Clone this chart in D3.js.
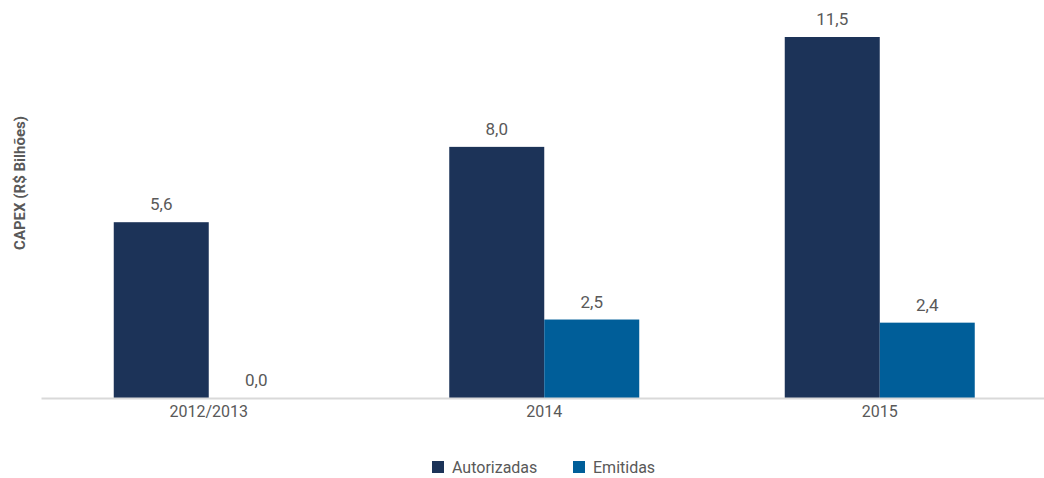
<!DOCTYPE html>
<html>
<head>
<meta charset="utf-8">
<script src="https://cdn.jsdelivr.net/npm/d3@7"></script>
<style>
  html, body { margin: 0; padding: 0; background: #fff; }
  svg text { font-family: "Liberation Sans Narrow", "Roboto", sans-serif; fill: #595959; }
</style>
</head>
<body>
<svg id="chart" width="1044" height="478"></svg>
<script>
// CAPEX data (R$ bilhões)
const categories = ["2012/2013", "2014", "2015"];
const seriesNames = ["Autorizadas", "Emitidas"];
const autorizadas = [5.6, 8.0, 11.5];
const emitidas = [0.0, 2.5, 2.4];
const colors = ["#1c3358", "#005e99"];

const svg = d3.select("#chart");
const margin = { left: 41, right: -3.5, top: 37, bottom: 80 };
const W = 1044, H = 478;
const baseY = 398;

const x0 = d3.scaleBand().domain(categories).range([margin.left, W - margin.right]).paddingInner(0).paddingOuter(0);
const barW = 95;
const x1 = d3.scaleBand().domain(seriesNames).range([0, barW * 2]);
const y = d3.scaleLinear().domain([0, 11.5]).range([baseY, margin.top]);

const rows = categories.map((c, i) => ({ cat: c, vals: [autorizadas[i], emitidas[i]] }));

const groups = svg.selectAll("g.grp").data(rows).join("g")
  .attr("class", "grp")
  .attr("transform", d => `translate(${x0(d.cat) + x0.bandwidth() / 2 - barW},0)`);

groups.selectAll("rect").data(d => d.vals.map((v, j) => ({ v, s: seriesNames[j], j })))
  .join("rect")
  .attr("x", d => x1(d.s))
  .attr("width", x1.bandwidth())
  .attr("y", d => y(d.v))
  .attr("height", d => y(0) - y(d.v))
  .attr("fill", d => colors[d.j]);

groups.selectAll("text.val").data(d => d.vals.map((v, j) => ({ v, s: seriesNames[j] })))
  .join("text")
  .attr("class", "val")
  .attr("x", d => x1(d.s) + x1.bandwidth() / 2)
  .attr("y", d => y(d.v) - 12)
  .attr("text-anchor", "middle")
  .attr("font-size", 17)
  .text(d => d3.format(".1f")(d.v).replace(".", ","));

// baseline axis
const xAxis = d3.axisBottom(x0).tickSize(0).tickPadding(8);
const ax = svg.append("g").attr("transform", `translate(0,${baseY})`).call(xAxis);
ax.select(".domain").attr("stroke", "#d9d9d9").attr("stroke-width", 2);
ax.selectAll("text").attr("font-size", 16).style("fill", "#595959")
  .style("font-family", "'Liberation Sans Narrow', Roboto, sans-serif");

// y-axis title
svg.append("text")
  .attr("transform", "translate(25,183) rotate(-90)")
  .attr("text-anchor", "middle")
  .attr("font-size", 15)
  .attr("font-weight", "bold")
  .text("CAPEX (R$ Bilhões)");

// legend
const legend = svg.append("g");
const legendItems = [{ name: seriesNames[0], x: 432 }, { name: seriesNames[1], x: 573 }];
legendItems.forEach((it, i) => {
  legend.append("rect").attr("x", it.x).attr("y", 461).attr("width", 12).attr("height", 12).attr("fill", colors[i]);
  legend.append("text").attr("x", it.x + 20).attr("y", 473).attr("font-size", 16).text(it.name);
});
</script>
</body>
</html>
